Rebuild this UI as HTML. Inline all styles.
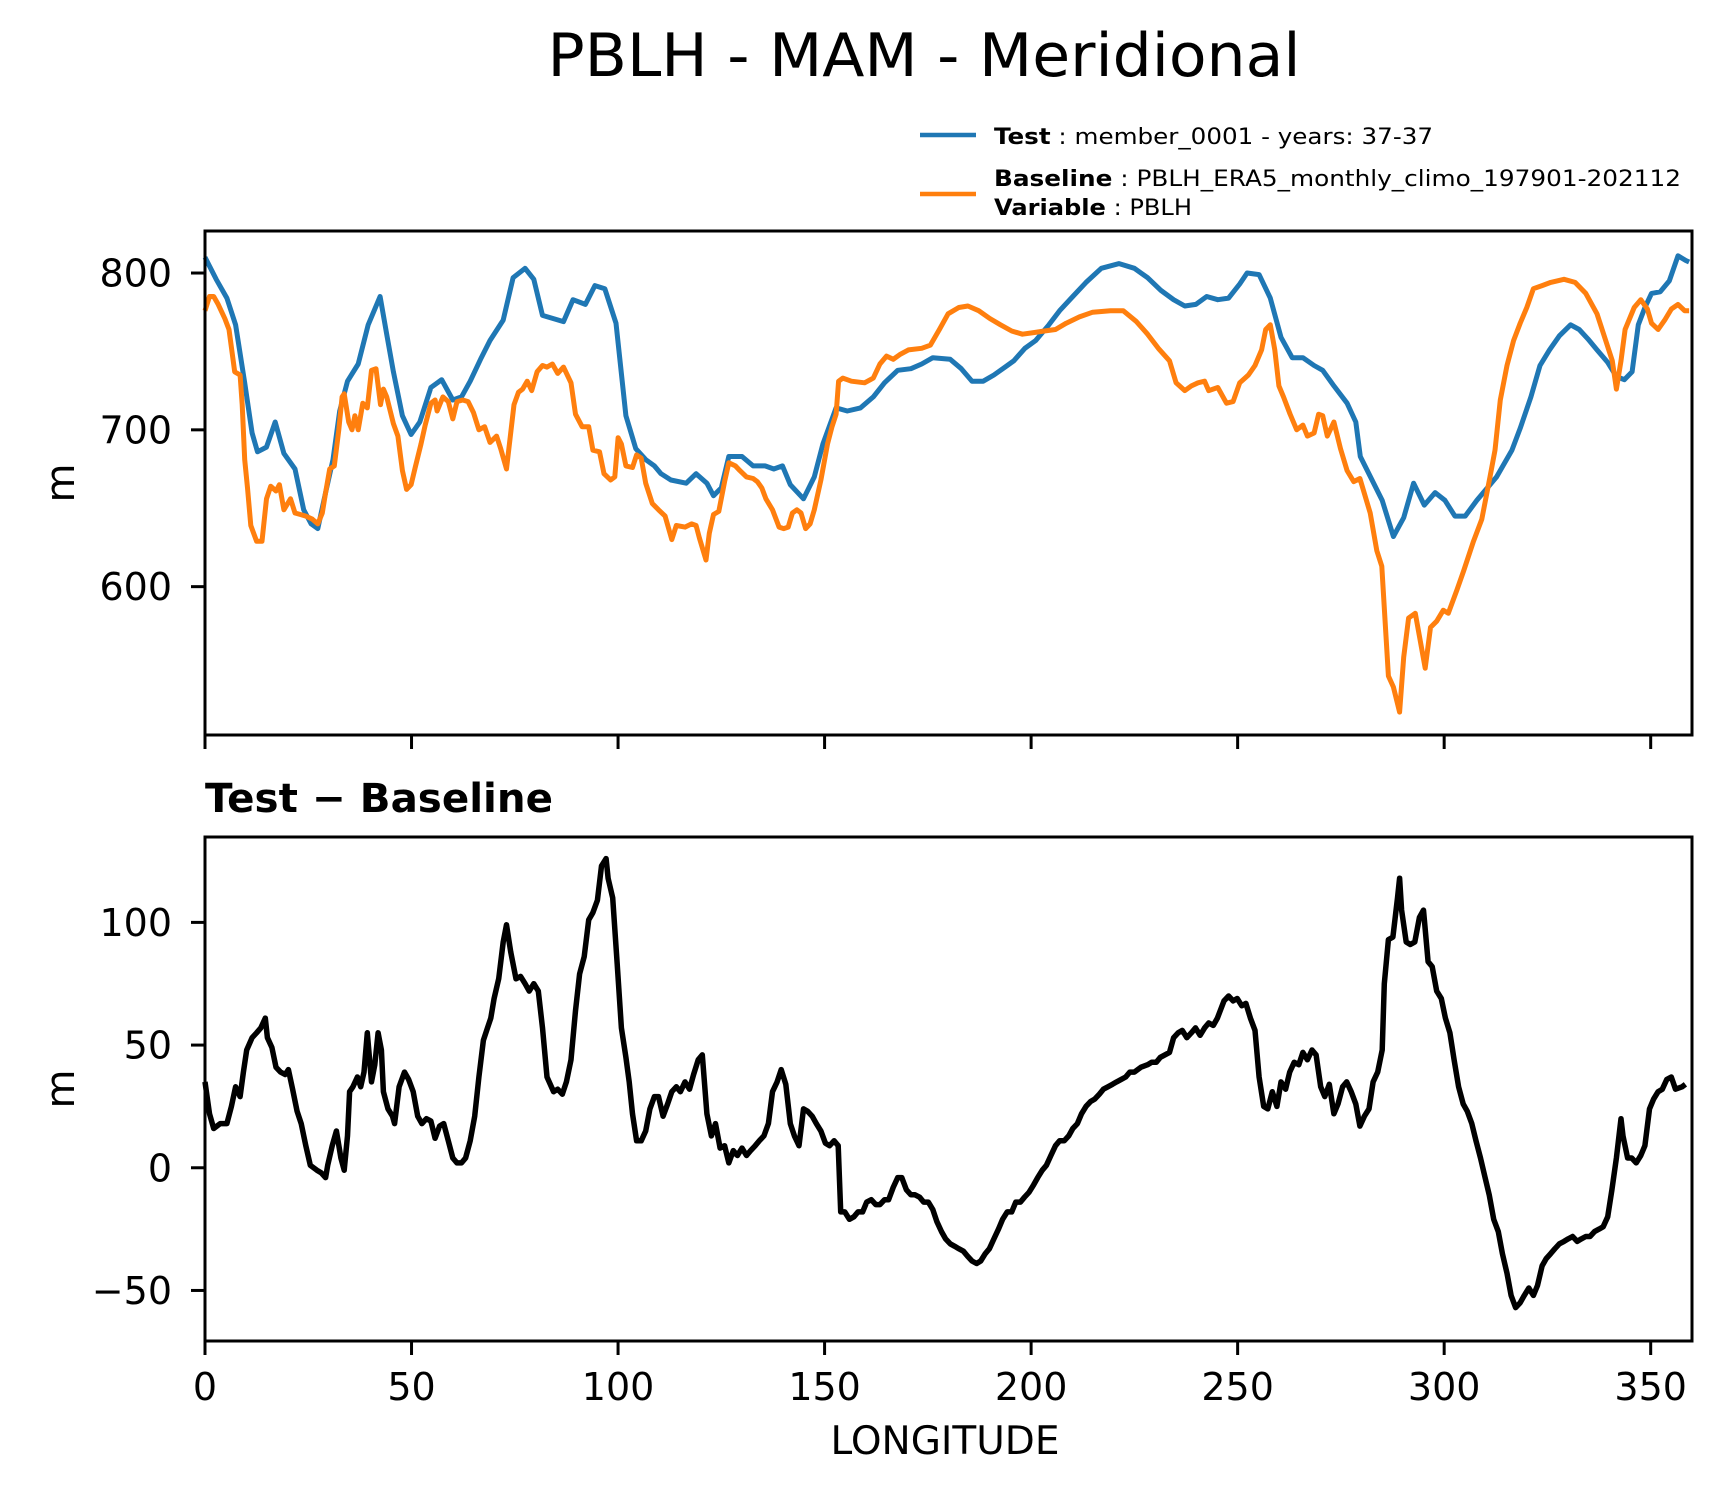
<!DOCTYPE html>
<html><head><meta charset="utf-8"><style>
html,body{margin:0;padding:0;background:#fff}
svg{display:block;font-family:"DejaVu Sans","Liberation Sans",sans-serif}
</style></head><body>
<svg id="chart" width="1721" height="1496" viewBox="0 0 1721 1496" xmlns="http://www.w3.org/2000/svg">
<rect width="1721" height="1496" fill="#fff"/>
<text x="924" y="76" font-size="60" text-anchor="middle" textLength="753" lengthAdjust="spacingAndGlyphs">PBLH - MAM - Meridional</text>
<g>
<line x1="920" y1="135" x2="976" y2="135" stroke="#1f77b4" stroke-width="4.5"/>
<line x1="920" y1="194" x2="976" y2="194" stroke="#ff7f0e" stroke-width="4.5"/>
<text x="994" y="144" font-size="22" textLength="439" lengthAdjust="spacingAndGlyphs"><tspan font-weight="bold">Test</tspan> : member_0001 - years: 37-37</text>
<text x="994" y="186" font-size="22" textLength="687" lengthAdjust="spacingAndGlyphs"><tspan font-weight="bold">Baseline</tspan> : PBLH_ERA5_monthly_climo_197901-202112</text>
<text x="994" y="215" font-size="22" textLength="198" lengthAdjust="spacingAndGlyphs"><tspan font-weight="bold">Variable</tspan> : PBLH</text>
</g>
<text x="205" y="812" font-size="40" font-weight="bold" textLength="348" lengthAdjust="spacingAndGlyphs">Test − Baseline</text>
<text x="945" y="1454" font-size="39" text-anchor="middle">LONGITUDE</text>
<text transform="translate(74,483) rotate(-90)" font-size="40" text-anchor="middle">m</text>
<text transform="translate(74,1089) rotate(-90)" font-size="40" text-anchor="middle">m</text>
<g id="topg"></g>
<g id="botg"></g>
</svg>
<script>
const xTicks=[0,50,100,150,200,250,300,350];
const topYTicks=[600,700,800];
const botYTicks=[-50,0,50,100];
const testLon=[0,2.7,5.3,7.4,9.6,11.4,12.7,14.9,17.0,19.1,21.8,23.9,25.7,27.3,29.2,31.0,32.6,34.5,37.1,39.5,42.4,44.0,45.6,47.8,49.9,52.0,54.7,57.3,60.0,62.1,64.2,66.9,69.0,72.2,74.6,77.5,79.6,81.7,86.8,89.1,92.1,94.4,96.8,99.5,101.9,104.3,106.7,108.8,110.4,112.8,116.5,118.9,121.5,123.1,125.0,126.8,130.0,132.7,135.6,137.7,139.8,141.7,144.9,147.5,149.6,152.8,155.5,158.7,161.8,164.5,167.7,170.9,173.5,176.2,180.4,183.1,185.7,188.4,191.0,193.7,195.8,198.5,201.1,204.3,206.9,210.1,213.3,217.0,221.3,225.0,228.2,231.4,234.5,237.2,239.9,242.5,245.2,247.8,250.5,252.3,255.2,257.9,260.5,263.2,265.8,268.5,270.6,273.3,276.5,278.6,279.7,285,287.7,290.2,292.6,295.2,297.8,300.2,302.6,305.1,307.9,312.7,316.4,318.4,321.0,323.2,325.5,327.9,330.6,332.7,334.8,337.0,339.6,341.7,343.6,345.5,347.0,348.6,350.2,352.3,354.5,356.6,358.5,359.3];
const testVal=[810,796,784,767,730,698,686,689,705,685,675,649,640,637,660,681,712,731,742,767,785,761,737,709,697,705,727,732,719,721,731,746,757,770,797,803,796,773,769,783,780,792,790,768,709,688,681,677,672,668,666,672,666,658,663,683,683,677,677,675,677,665,656,670,691,714,712,714,721,730,738,739,742,746,745,739,731,731,735,740,744,752,757,767,776,785,794,803,806,803,797,789,783,779,780,785,783,784,793,800,799,784,759,746,746,741,738,728,717,705,683,655,632,644,666,652,660,655,645,645,655,670,687,701,721,741,751,760,767,764,758,751,743,734,732,737,767,778,787,788,795,811,808,807];
const baseLon=[0,1.1,2.1,3.2,4.8,5.8,7.2,8.5,9.0,9.6,10.3,11.1,12.5,13.8,14.9,15.9,17.2,18.0,19.1,20.7,21.8,23.1,24.4,26.0,27.3,28.4,29.2,30.2,31.3,32.4,33.2,33.7,34.8,35.6,36.3,37.1,38.2,39.3,40.3,41.4,42.5,43.2,44.0,45.6,46.7,47.8,48.8,49.9,50.9,52.3,53.3,54.7,55.7,56.2,57.6,58.9,60.0,61.0,62.4,63.7,65.0,66.3,67.7,69.0,70.6,71.6,73.0,74.0,74.8,75.9,76.9,78.0,79.1,80.4,81.7,82.8,84.1,85.4,86.8,88.6,89.7,91.3,92.9,93.9,95.5,96.6,98.2,99.2,100.0,100.8,101.9,103.5,104.5,105.6,106.7,108.3,109.8,111.4,113.0,114.1,116.2,117.8,118.9,119.7,120.5,121.3,122.1,123.1,124.4,125.8,126.8,128.4,129.5,131.1,132.7,133.7,134.8,135.8,137.4,139.0,140.1,141.2,142.2,143.3,144.3,145.4,146.5,147.5,149.1,150.7,151.8,152.8,153.4,154.4,156.5,159.7,161.8,163.4,165.0,166.6,168.2,170.3,173.5,175.6,177.8,179.9,182.5,184.7,187.3,190.0,192.6,195.3,197.9,200.6,203.2,205.9,208.5,211.7,214.9,219.2,222.3,225.5,228.2,230.8,233.5,235.1,237.2,238.8,240.4,242.0,243.0,245.2,247.3,248.9,250.5,252.6,254.2,255.8,256.8,257.9,259.0,260.0,261.1,262.7,264.3,265.8,266.9,268.5,269.6,270.6,271.7,273.3,274.9,276.5,278.1,279.6,282.1,283.7,284.9,286.5,287.7,289.2,290.2,291.4,293.0,295.4,296.7,298.2,299.8,301.0,303.1,304.7,307.1,309.1,311.1,312.3,313.6,315.2,316.8,318.4,320.0,321.6,323.7,325.8,329.0,331.7,334.3,337.0,339.1,340.7,341.7,342.8,343.8,346.0,347.6,349.2,350.2,351.8,353.4,355.0,356.6,358.2,359.3];
const baseVal=[776,785,785,780,771,764,737,735,716,681,663,639,629,629,656,664,661,665,649,656,647,646,645,643,640,647,660,675,677,700,721,723,705,700,709,700,717,714,738,739,716,726,721,704,696,674,662,665,676,691,703,717,719,712,721,718,707,718,719,718,711,700,702,692,696,688,675,698,716,724,726,731,725,737,741,740,742,736,740,730,710,702,702,687,686,672,668,670,695,691,677,676,684,682,666,653,649,645,630,639,638,640,639,631,624,617,634,646,648,667,679,677,674,670,669,667,663,656,649,638,637,638,647,649,647,637,640,649,668,691,702,710,731,733,731,730,733,742,747,745,748,751,752,754,764,774,778,779,776,771,767,763,761,762,763,764,768,772,775,776,776,769,761,752,744,730,725,728,730,731,725,727,717,718,730,735,741,751,764,767,751,728,721,710,700,703,696,698,710,709,696,705,688,674,667,669,647,623,613,543,536,520,555,580,583,548,574,578,585,583,598,610,629,643,670,687,719,741,757,768,778,790,792,794,796,794,787,774,757,744,726,744,764,778,783,777,768,764,770,777,780,776,776];
const diffLon=[0,1.1,2.1,3.7,5.3,6.4,7.4,8.5,9.3,10.1,11.4,12.5,13.5,14.6,15.1,16.2,17.2,18.3,19.4,20.2,21.2,22.3,23.3,24.4,25.5,27.1,28.1,29.2,29.7,30.8,31.8,32.9,33.7,34.5,35.0,35.8,36.9,37.7,38.5,39.3,40.3,41.1,41.9,42.7,43.2,44.3,45.4,45.9,47.0,48.3,49.3,50.4,51.5,52.5,53.6,54.7,55.7,56.8,57.8,58.9,60.0,61.0,62.1,63.1,64.2,65.3,66.3,67.4,68.4,69.2,70.0,71.1,72.2,73.0,74.0,75.3,76.4,77.5,78.5,79.6,80.7,81.7,82.8,84.4,85.4,86.5,87.5,88.6,89.7,90.7,91.8,92.9,93.9,95.0,96.0,97.1,97.6,98.7,99.8,100.8,101.9,102.7,103.5,104.5,105.6,106.7,107.7,108.8,109.8,110.9,112.0,113.0,114.1,115.1,116.2,117.3,118.3,119.4,120.4,121.5,122.6,123.6,124.7,125.8,126.8,127.9,128.9,130.0,131.1,132.1,133.2,134.2,135.3,136.4,137.4,138.5,139.5,140.6,141.7,142.7,143.8,144.9,145.9,147.0,148.0,149.1,150.2,151.2,152.3,153.3,153.9,154.9,156.0,157.1,158.1,159.2,160.2,161.3,162.4,163.4,164.5,165.5,166.6,167.7,168.7,169.8,170.9,171.9,173.0,174.0,175.1,176.2,177.2,178.3,179.3,180.4,181.5,182.5,183.6,184.6,185.7,186.8,187.8,188.9,189.9,191.0,192.1,193.1,194.2,195.3,196.3,197.4,198.4,199.5,200.6,201.6,202.7,203.7,204.8,205.9,206.9,208.0,209.1,210.1,211.2,212.2,213.3,214.4,215.4,216.5,217.5,218.6,219.7,220.7,221.8,222.9,223.9,225.0,226.6,228.2,229.2,230.3,231.3,233.5,234.5,235.6,236.6,237.7,238.8,239.8,240.9,242.0,243.0,244.1,245.1,246.7,247.8,248.9,249.9,251.0,252.0,253.1,254.2,255.2,256.3,257.3,258.4,259.5,260.5,261.6,262.6,263.7,264.8,265.8,266.9,268.0,269.0,270.1,271.1,272.2,273.3,274.3,275.4,276.4,277.5,278.6,279.6,280.7,281.8,282.8,283.9,285.0,285.5,286.5,287.6,288.7,289.2,289.7,290.8,291.8,292.9,294.0,295.0,296.1,297.1,298.2,299.3,300.3,301.4,302.4,303.5,304.6,305.6,306.7,307.7,308.8,309.9,310.9,312.0,313.1,314.1,315.2,316.2,317.3,318.4,319.4,320.5,321.6,322.6,323.7,324.7,325.8,326.8,327.9,329.0,330.0,331.1,332.2,333.2,334.3,335.3,336.4,337.5,338.5,339.6,340.6,341.7,342.8,343.3,344.4,345.4,346.5,347.6,348.6,349.7,350.7,351.8,352.8,353.9,355.0,356.0,357.6,358.4];
const diffVal=[35,22,16,18,18,25,33,29,39,48,53,55,57,61,53,49,41,39,38,40,32,23,18,9,1,-1,-2,-4,1,9,15,4,-1,13,31,33,37,33,39,55,35,42,55,48,31,24,21,18,33,39,36,31,21,18,20,19,12,17,18,11,4,2,2,4,11,21,37,52,57,61,69,77,92,99,88,77,78,75,72,75,72,57,37,31,32,30,35,44,64,79,86,101,104,109,123,126,118,110,83,57,45,35,22,11,11,15,24,29,29,21,26,31,33,31,35,32,38,44,46,22,13,18,8,9,2,7,5,8,5,7,9,11,13,18,31,35,40,34,18,13,9,24,23,21,18,15,10,9,11,9,-18,-18,-21,-20,-18,-18,-14,-13,-15,-15,-13,-13,-8,-4,-4,-9,-11,-11,-12,-14,-14,-17,-22,-26,-29,-31,-32,-33,-34,-36,-38,-39,-38,-35,-33,-29,-25,-21,-18,-18,-14,-14,-12,-10,-7,-4,-1,1,5,9,11,11,13,16,18,22,25,27,28,30,32,33,34,35,36,37,39,39,41,42,43,43,45,47,53,55,56,53,55,57,54,57,59,58,61,68,70,68,69,66,67,61,56,37,25,24,31,25,35,32,39,43,42,47,44,48,46,33,29,34,22,26,33,35,31,26,17,21,24,35,39,48,75,93,94,110,118,105,92,91,92,102,105,84,82,72,69,61,55,44,33,26,23,18,11,4,-4,-11,-21,-26,-35,-43,-52,-57,-55,-52,-49,-52,-48,-40,-37,-35,-33,-31,-30,-29,-28,-30,-29,-28,-28,-26,-25,-24,-20,-9,4,20,13,4,4,2,5,9,24,28,31,32,36,37,32,33,34];

const NS='http://www.w3.org/2000/svg';
const X0=205,X1=1692,XMIN=0,XMAX=360;
function xs(v){return X0+(v-XMIN)/(XMAX-XMIN)*(X1-X0);}
const topPanel={g:document.getElementById('topg'),y0:231,y1:735,vmin:505.4,vmax:826.8};
const botPanel={g:document.getElementById('botg'),y0:837,y1:1341,vmin:-70.6,vmax:134.8};
function ys(p,v){return p.y1-(v-p.vmin)/(p.vmax-p.vmin)*(p.y1-p.y0);}
function mk(tag,attrs,parent){const e=document.createElementNS(NS,tag);for(const k in attrs)e.setAttribute(k,attrs[k]);parent.appendChild(e);return e;}

function drawAxes(p,yTicks,xLabels,prefix){
  xTicks.forEach(t=>{
    const l=mk('line',{x1:xs(t),x2:xs(t),y1:p.y1,y2:p.y1+14,stroke:'#000','stroke-width':3},p.g);
    
    
    if(xLabels){
      const tx=mk('text',{x:xs(t),y:1400,'font-size':38,'text-anchor':'middle'},p.g);
      tx.textContent=String(t);
      
      
    }
  });
  yTicks.forEach(t=>{
    const y=ys(p,t);
    const l=mk('line',{x1:X0-14,x2:X0,y1:y,y2:y,stroke:'#000','stroke-width':3},p.g);
    
    
    const tx=mk('text',{x:172,y:y+13.5,'font-size':38,'text-anchor':'end'},p.g);
    tx.textContent=t<0?'\u2212'+Math.abs(t):String(t);
    
    
  });
}
function drawLine(p,lon,val,color,w,name){
  let d='';
  const n=Math.min(lon.length,val.length);
  for(let i=0;i<n;i++){d+=(i?'L':'M')+xs(lon[i]).toFixed(1)+','+ys(p,val[i]).toFixed(1);}
  const path=mk('path',{d:d,fill:'none',stroke:color,'stroke-width':w,'stroke-linejoin':'round','stroke-linecap':'butt'},p.g);
  
  
}
function frame(p,name){
  const r=mk('rect',{x:X0,y:p.y0,width:X1-X0,height:p.y1-p.y0,fill:'none',stroke:'#000','stroke-width':3},p.g);
  
  
}
drawLine(topPanel,testLon,testVal,'#1f77b4',5,'test-line');
drawLine(topPanel,baseLon,baseVal,'#ff7f0e',5,'baseline-line');
drawAxes(topPanel,topYTicks,false,'top');
frame(topPanel,'top-plot-frame');
drawLine(botPanel,diffLon,diffVal,'#000',5.5,'difference-line');
drawAxes(botPanel,botYTicks,true,'bottom');
frame(botPanel,'bottom-plot-frame');
</script>
</body></html>
